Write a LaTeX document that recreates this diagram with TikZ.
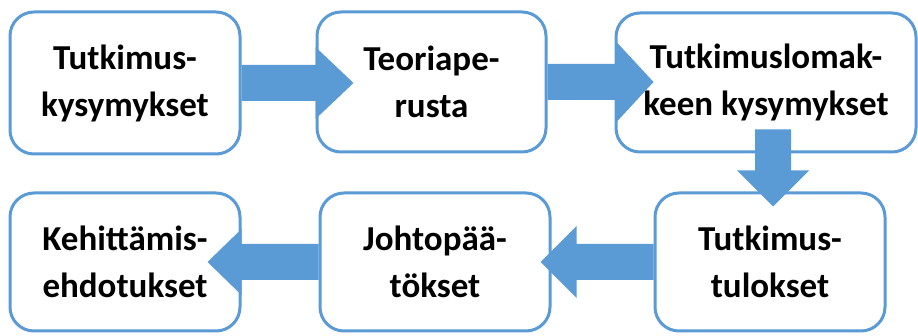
\documentclass[tikz,border=0pt]{standalone}
\usepackage{fontspec}
\setmainfont{Carlito}
\usetikzlibrary{calc}
\definecolor{ofblue}{HTML}{5B9BD5}
\begin{document}
\begin{tikzpicture}[x=1pt,y=-1pt,
  box/.style={draw=ofblue, line width=3pt, rounded corners=24pt, fill=white,
    align=center, inner sep=0pt,
    font=\bfseries\fontsize{35}{47}\selectfont},
  arr/.style={fill=ofblue}]
\useasboundingbox[fill=white] (0,0) rectangle (918,336);
\node[box, minimum width=230, minimum height=142] (b1) at (125,83) {Tutkimus-\\kysymykset};
\node[box, minimum width=229, minimum height=140] (b2) at (431.5,82) {Teoriape-\\rusta};
\node[box, minimum width=300, minimum height=139] (b3) at (766,82.5) {Tutkimuslomak-\\keen kysymykset};
\node[box, minimum width=230, minimum height=138] (b4) at (770,262) {Tutkimus-\\tulokset};
\node[box, minimum width=230, minimum height=138] (b5) at (435,262) {Johtopää-\\tökset};
\node[box, minimum width=230, minimum height=138] (b6) at (125,262) {Kehittämis-\\ehdotukset};
% b1 -> b2
\fill[arr] let \p1=(b1.east), \p2=(b2.west) in
  (\x1,\y1-18) -- (\x2,\y1-18) -- (\x2,\y1-36) -- (\x2+38,\y1) --
  (\x2,\y1+36) -- (\x2,\y1+18) -- (\x1,\y1+18) -- cycle;
% b2 -> b3
\fill[arr] let \p1=(b2.east), \p2=(b3.west) in
  (\x1,\y1-18) -- (\x2+2,\y1-18) -- (\x2+2,\y1-40) -- (\x2+39,\y1) --
  (\x2+2,\y1+40) -- (\x2+2,\y1+18) -- (\x1,\y1+18) -- cycle;
% b3 -> b4
\fill[arr] let \p1=(b3.south), \p2=(b4.north) in
  (\x2-15,\y1+24) -- (\x2-15,\y2+21) -- (\x2-33,\y2+21) -- (\x2+3,\y2-15) --
  (\x2+39,\y2+21) -- (\x2+21,\y2+21) -- (\x2+21,\y1+24) -- cycle;
% b4 -> b5
\fill[arr] let \p1=(b4.west), \p2=(b5.east) in
  (\x1,\y1-18) -- (\x2+25,\y1-18) -- (\x2+25,\y1-36) -- (\x2-11,\y1) --
  (\x2+25,\y1+36) -- (\x2+25,\y1+18) -- (\x1,\y1+18) -- cycle;
% b5 -> b6
\fill[arr] let \p1=(b5.west), \p2=(b6.east) in
  (\x1,\y1-18) -- (\x2,\y1-18) -- (\x2,\y1-33) -- (\x2-34,\y1) --
  (\x2,\y1+33) -- (\x2,\y1+18) -- (\x1,\y1+18) -- cycle;
\end{tikzpicture}
\end{document}
